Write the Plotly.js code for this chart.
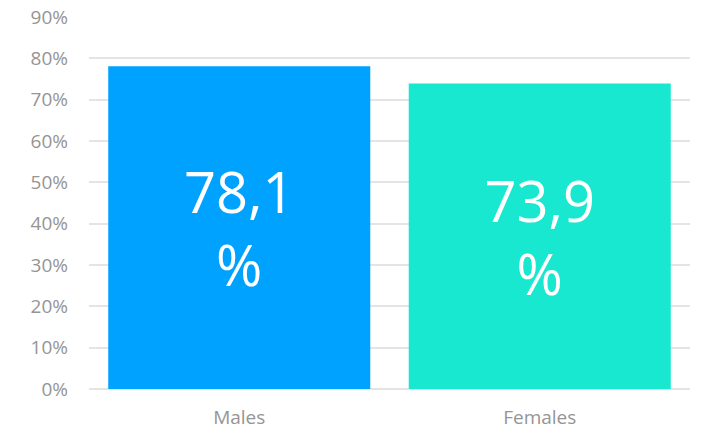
<!DOCTYPE html>
<html>
<head>
<meta charset="utf-8">
<script src="https://cdn.plot.ly/plotly-3.0.1.min.js"></script>
<style>html,body{margin:0;padding:0;background:#fff;}#chart{width:701px;height:431px;}</style>
</head>
<body>
<div id="chart"></div>
<script>
const categories = ["Males", "Females"];
const values = [78.1, 73.9];
const valueLabels = ["78,1<br>%", "73,9<br>%"];
const barColors = ["#00A2FF", "#19E8D1"];
const yTickVals = [0, 10, 20, 30, 40, 50, 60, 70, 80, 90];
const yTickText = yTickVals.map(v => v + "%");

const trace = {
  type: "bar",
  x: categories,
  y: values,
  text: valueLabels,
  texttemplate: "%{text}",
  textposition: "inside",
  insidetextanchor: "middle",
  textangle: 0,
  constraintext: "none",
  insidetextfont: {family: "Open Sans, sans-serif", size: 56, color: "#ffffff"},
  marker: {color: barColors, line: {width: 0}},
  hoverinfo: "none"
};

const layout = {
  width: 701, height: 431,
  margin: {l: 89, r: 11, t: 17, b: 42, pad: 0},
  paper_bgcolor: "#ffffff",
  plot_bgcolor: "#ffffff",
  bargap: 0.128,
  showlegend: false,
  font: {family: "Open Sans, sans-serif", color: "#959595"},
  xaxis: {
    showgrid: false, showline: false, zeroline: false, ticks: "",
    tickfont: {size: 19, color: "#959595"},
    ticklabelstandoff: 15
  },
  yaxis: {
    range: [0, 90],
    tickvals: yTickVals, ticktext: yTickText,
    showgrid: true, gridcolor: "#e4e4e4", gridwidth: 1.8,
    zeroline: true, zerolinecolor: "#e4e4e4", zerolinewidth: 1.8,
    showline: false, ticks: "",
    tickfont: {size: 19, color: "#959595"},
    ticklabelstandoff: 20
  }
};

Plotly.newPlot("chart", [trace], layout, {displayModeBar: false, staticPlot: true});
</script>
</body>
</html>
